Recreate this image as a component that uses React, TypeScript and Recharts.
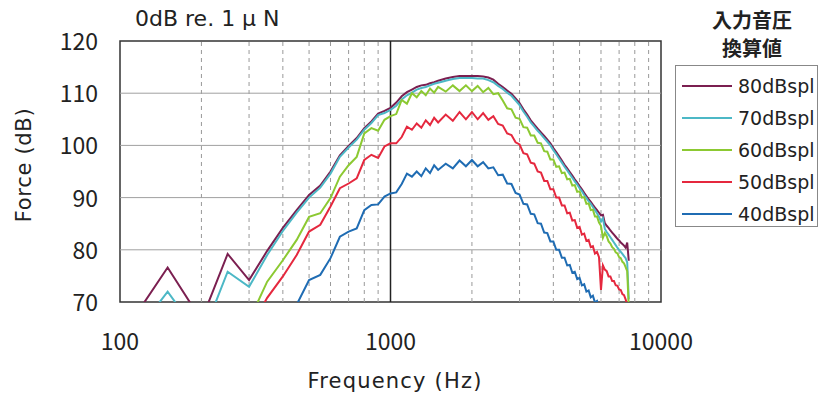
import { LineChart, Line, XAxis, YAxis, ReferenceLine, ReferenceArea, Legend, Label } from "recharts"

// frequency points (Hz)
const freqs = [
  100, 150, 200, 250, 300, 350, 400, 450, 500, 550, 600, 650, 700, 750, 800, 850, 900, 950,
  1000, 1050, 1100, 1150, 1200, 1250, 1300, 1350, 1400, 1450, 1500,
  1600, 1700, 1800, 1900, 2000, 2100, 2200, 2300, 2400, 2500,
  2600, 2700, 2800, 2900, 3000, 3100, 3200, 3300, 3400, 3500,
  3600, 3700, 3800, 3900, 4000, 4100, 4200, 4300, 4400, 4500,
  4600, 4700, 4800, 4900, 5000, 5100, 5200, 5300, 5400, 5500,
  5600, 5700, 5800, 5900, 6000, 6100, 6200, 6300, 6400, 6500,
  6600, 6700, 6800, 6900, 7000, 7100, 7200, 7300, 7400, 7500,
  7600,
]

const spl80 = [
  63, 76.6, 66.5, 79.2, 74.2, 79.8, 84.2, 87.6, 90.5, 92.3, 95.0, 98.1, 99.9, 101.4, 103.3, 104.6, 106.1, 106.6,
  107.2, 108.2, 109.4, 110.2, 110.7, 111.2, 111.5, 111.6, 111.9, 112.1, 112.4,
  112.8, 113.1, 113.3, 113.3, 113.3, 113.3, 113.2, 113.0, 112.6, 111.8,
  111.2, 110.5, 109.9, 109.0, 108.1, 106.9, 105.9, 104.8, 104.0, 103.2,
  102.5, 101.8, 101.1, 100.4, 99.5, 98.7, 97.9, 97.1, 96.3, 95.6,
  94.9, 94.2, 93.5, 92.9, 92.2, 91.6, 90.9, 90.3, 89.7, 89.2,
  88.6, 88.1, 87.6, 87.1, 86.6, 86.7, 85.1, 84.6, 84.2, 83.7,
  83.3, 82.9, 82.5, 82.1, 81.8, 81.4, 81.1, 80.8, 80.4, 81.4,
  77.9,
]

const spl70 = [
  60, 72, 63, 75.8, 72.9, 79.0, 83.6, 87.1, 90.0, 91.9, 94.6, 97.8, 99.6, 101.1, 103.0, 104.3, 105.8, 106.2,
  106.8, 107.6, 108.8, 109.6, 110.1, 110.7, 111.0, 111.2, 111.5, 111.8, 112.0,
  112.4, 112.7, 112.9, 112.9, 112.9, 112.8, 112.8, 112.5, 112.1, 111.4,
  110.8, 110.1, 109.5, 108.6, 107.7, 106.5, 105.5, 104.4, 103.6, 102.8,
  102.1, 101.4, 100.7, 100.0, 99.1, 98.3, 97.5, 96.7, 95.9, 95.2,
  94.5, 93.8, 93.1, 92.5, 91.8, 91.2, 90.5, 89.9, 89.3, 88.8,
  88.2, 87.6, 87.0, 86.3, 85.4, 86.0, 84.0, 83.4, 82.9, 82.4,
  81.9, 81.4, 80.9, 80.4, 80.0, 79.6, 79.2, 78.8, 78.4, 77.6,
  70.5,
]

const spl60 = [
  null, null, null, null, 66.4, 73.9, 78.0, 81.9, 86.3, 87.0, 89.9, 94.0, 96.2, 97.8, 102.3, 103.3, 102.8, 104.9,
  105.6, 106.0, 108.7, 108.0, 110.0, 109.2, 110.4, 109.6, 110.9, 110.1, 111.2,
  110.3, 111.5, 110.4, 111.5, 110.4, 111.4, 110.2, 111.0, 109.8, 110.0,
  108.6, 107.1, 106.9, 105.3, 105.1, 103.5, 103.4, 101.9, 101.9, 100.5,
  100.4, 98.9, 98.8, 97.3, 97.3, 95.9, 96.0, 94.7, 94.8, 93.5,
  93.6, 92.3, 92.4, 91.1, 91.2, 90.0, 90.1, 88.8, 88.9, 87.6,
  87.7, 86.4, 86.4, 85.2, 84.6, 82.3, 83.2, 82.6, 81.6, 81.2,
  80.5, 80.2, 79.5, 79.3, 78.6, 78.4, 77.7, 77.4, 76.7, 75.9,
  69,
]

const spl50 = [
  null, null, null, null, 64.6, 70.8, 74.9, 79.0, 83.5, 84.8, 88.3, 91.8, 92.7, 93.7, 97.2, 98.2, 97.6, 99.8,
  100.4, 100.4, 101.6, 103.6, 103.0, 104.2, 103.4, 104.8, 103.9, 105.3, 104.4,
  105.9, 104.7, 106.4, 105.0, 106.4, 105.0, 106.2, 104.9, 105.6, 104.1,
  103.8, 102.3, 102.0, 100.6, 100.2, 98.5, 98.3, 96.7, 96.5, 95.0,
  94.8, 93.2, 93.2, 91.6, 91.6, 90.0, 90.0, 88.5, 88.5, 87.0,
  87.1, 85.6, 85.7, 84.2, 84.4, 82.9, 83.1, 81.7, 81.9, 80.5,
  80.7, 79.3, 79.6, 78.6, 72.3, 77.0, 76.2, 75.9, 74.9, 74.9,
  74.0, 74.0, 73.2, 73.1, 72.4, 72.3, 71.5, 71.3, 70.5, 69.5,
  68,
]

const spl40 = [
  null, null, null, null, null, null, null, 69.5, 74.2, 75.2, 78.4, 82.5, 83.5, 84.1, 87.6, 88.6, 88.7, 90.2,
  90.8, 91.0, 92.6, 94.6, 94.0, 95.0, 94.1, 95.6, 94.7, 96.2, 95.3,
  96.5, 95.6, 97.1, 96.0, 97.2, 96.0, 96.8, 95.6, 95.8, 94.3,
  94.4, 92.7, 92.6, 90.9, 90.6, 88.8, 88.7, 86.9, 86.8, 85.1,
  85.0, 83.3, 83.2, 81.6, 81.6, 80.0, 80.0, 78.5, 78.5, 77.0,
  77.1, 75.6, 75.8, 74.4, 74.6, 73.2, 73.4, 72.0, 72.2, 70.9,
  71.2, 69.9, 70.2, 68.9, 68.5, null, null, null, null, null,
  null, null, null, null, null, null, null, null, null, null,
  null,
]

const xTicks = [100, 1000, 10000]
const minorX = [200, 300, 400, 500, 600, 700, 800, 900, 2000, 3000, 4000, 5000, 6000, 7000, 8000, 9000]
const yTicks = [70, 80, 90, 100, 110, 120]
const yGrid = [80, 90, 100, 110]

const series = [
  { key: "s80", name: "80dBspl", color: "#7b1f50", values: spl80 },
  { key: "s70", name: "70dBspl", color: "#4cb8c6", values: spl70 },
  { key: "s60", name: "60dBspl", color: "#8cc932", values: spl60 },
  { key: "s50", name: "50dBspl", color: "#e5283e", values: spl50 },
  { key: "s40", name: "40dBspl", color: "#1f6cb3", values: spl40 },
]

const data = freqs.map((f, i) => {
  const row: any = { f }
  series.forEach((s) => (row[s.key] = s.values[i]))
  return row
})

const font = "'DejaVu Sans', sans-serif"
const tickFont = "'Noto Sans CJK JP', sans-serif"

function XTick({ x, y, payload }: any) {
  return (
    <text x={x} y={y + 48} textAnchor="middle" fontSize={23} fill="#222" fontFamily={tickFont}>
      {payload.value}
    </text>
  )
}

function YTick({ x, y, payload }: any) {
  return (
    <text x={x - 22} y={y + 9} textAnchor="end" fontSize={23} fill="#222" fontFamily={tickFont}>
      {payload.value}
    </text>
  )
}

function LegendBox() {
  return (
    <div style={{ position: "relative", width: 827, height: 394, fontFamily: font, color: "#222" }}>
      <div
        style={{
          position: "absolute",
          left: 690,
          top: 6,
          width: 124,
          textAlign: "center",
          fontFamily: "'Noto Sans CJK JP', sans-serif",
          fontWeight: 700,
          fontSize: 20,
          lineHeight: "28px",
        }}
      >
        入力音圧
        <br />
        換算値
      </div>
      <div
        style={{
          position: "absolute",
          left: 675,
          top: 65,
          width: 141,
          height: 160,
          border: "1px solid #888",
          background: "#fff",
        }}
      >
        {series.map((s, i) => (
          <div
            key={s.key}
            style={{
              position: "absolute",
              left: 6,
              top: 8 + i * 32,
              height: 24,
              display: "flex",
              alignItems: "center",
            }}
          >
            <div style={{ width: 50, height: 2, background: s.color, marginRight: 6 }} />
            <span style={{ fontSize: 19 }}>{s.name}</span>
          </div>
        ))}
      </div>
    </div>
  )
}

export default function App() {
  return (
    <div style={{ position: "absolute", left: 0, top: 0, width: 827, height: 394, background: "#fff" }}>
      <div style={{ position: "absolute", left: 135, top: 6, fontFamily: font, fontSize: 22, color: "#222" }}>
        0dB re. 1 μ N
      </div>
      <LineChart
        width={827}
        height={394}
        data={data}
        margin={{ top: 41, right: 166, bottom: 32, left: 0 }}
        style={{ fontFamily: font }}
      >
        {minorX.map((t) => (
          <ReferenceLine key={t} x={t} stroke="#999" strokeDasharray="4 4" />
        ))}
        {yGrid.map((t) => (
          <ReferenceLine key={t} y={t} stroke="#a0a0a0" />
        ))}
        <ReferenceLine x={1000} stroke="#222" strokeWidth={1.5} />
        <XAxis
          dataKey="f"
          type="number"
          scale="log"
          domain={[100, 10000]}
          ticks={xTicks}
          allowDataOverflow
          axisLine={false}
          tickLine={false}
          tickSize={0}
          tickMargin={0}
          height={60}
          tick={<XTick />}
        >
          <Label
            content={() => (
              <text x={395} y={388} textAnchor="middle" fontSize={21} fill="#222" letterSpacing={1.2}>
                Frequency (Hz)
              </text>
            )}
          />
        </XAxis>
        <YAxis
          type="number"
          domain={[70, 120]}
          ticks={yTicks}
          allowDataOverflow
          axisLine={false}
          tickLine={false}
          tickSize={0}
          tickMargin={0}
          width={120}
          tick={<YTick />}
        >
          <Label
            content={() => (
              <text
                x={31}
                y={165}
                textAnchor="middle"
                fontSize={21}
                fill="#222"
                letterSpacing={0.7}
                transform="rotate(-90 31 165)"
              >
                Force (dB)
              </text>
            )}
          />
        </YAxis>
        {series.map((s) => (
          <Line
            key={s.key}
            dataKey={s.key}
            name={s.name}
            stroke={s.color}
            strokeWidth={2}
            dot={false}
            activeDot={false}
            isAnimationActive={false}
          />
        ))}
        <ReferenceArea x1={100} x2={10000} y1={70} y2={120} fill="none" stroke="#333" strokeWidth={1.5} />
        <Legend
          verticalAlign="middle"
          align="center"
          layout="horizontal"
          content={() => <LegendBox />}
          wrapperStyle={{ position: "absolute", left: 0, top: 0, width: 827, height: 394, pointerEvents: "none" }}
        />
      </LineChart>
    </div>
  )
}
